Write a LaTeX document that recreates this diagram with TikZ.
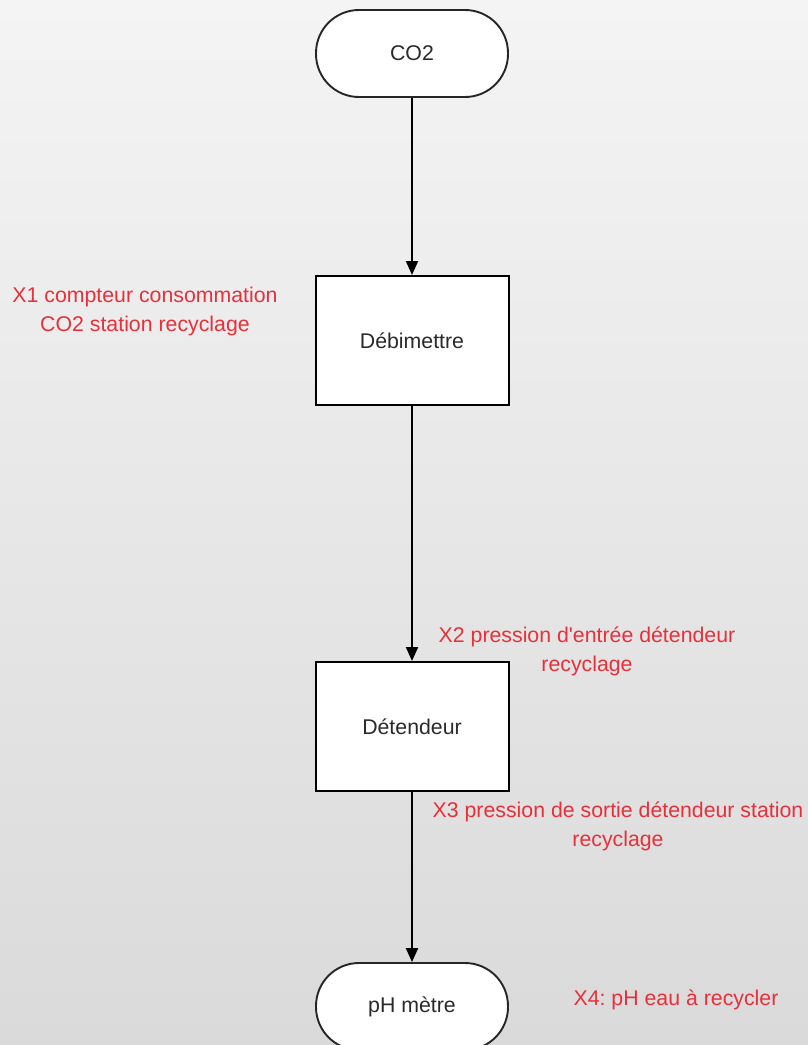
\documentclass[tikz,border=0pt]{standalone}
\usepackage{fontspec}
\setmainfont{Liberation Sans}
\frenchspacing
\usetikzlibrary{arrows.meta}
\definecolor{bgtop}{HTML}{F4F4F4}
\definecolor{bgbot}{HTML}{DADADA}
\definecolor{lblred}{HTML}{E8303A}
\definecolor{txtgray}{HTML}{2A2A2A}
\tikzset{
  term/.style={draw=black!85, line width=1.9pt, fill=white, minimum width=192pt, minimum height=87pt, rounded corners=43pt, inner sep=0pt, text=txtgray, font=\fontsize{21.3}{29}\selectfont},
  procbox/.style={draw=black, line width=2pt, fill=white, minimum width=193pt, minimum height=129pt, inner sep=0pt, text=txtgray, font=\fontsize{21.3}{29}\selectfont},
  lbl/.style={text=lblred, align=center, inner sep=0pt, font=\fontsize{21.3}{29}\selectfont},
  flow/.style={draw=black, line width=2pt, -{Triangle[length=14pt,width=12pt]}}
}
\begin{document}
\begin{tikzpicture}[x=1pt,y=-1pt]
\useasboundingbox (0,0) rectangle (808,1045);
\shade[top color=bgtop, bottom color=bgbot] (0,0) rectangle (808,1045);
\begin{scope}
\clip (0,0) rectangle (808,1045);
\node[term] (co2) at (412,53.5) {CO2};
\node[procbox] (deb) at (412,340.5) {Débimettre};
\node[procbox] (det) at (412,726.5) {Détendeur};
\node[term] (ph) at (412,1006.5) {pH mètre};
\end{scope}
\draw[flow] (co2.south) -- (deb.north);
\draw[flow] (deb.south) -- (det.north);
\draw[flow] (det.south) -- (ph.north);
\node[lbl] (x1) at (145,311) {X1 compteur consommation\\CO2 station recyclage};
\node[lbl] (x2) at (587,651) {X2 pression d\textquotesingle entrée détendeur\\recyclage};
\node[lbl] (x3) at (618,826) {X3 pression de sortie détendeur station\\recyclage};
\node[lbl] (x4) at (676,1000) {X4: pH eau à recycler};
\end{tikzpicture}
\end{document}
